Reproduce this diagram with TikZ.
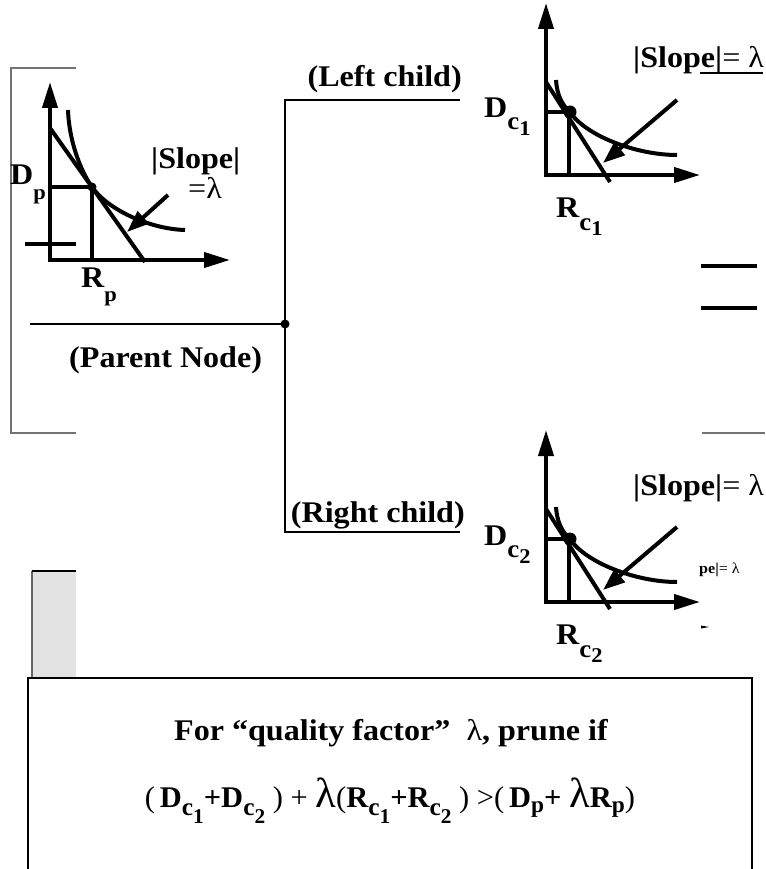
\documentclass[tikz,border=0pt]{standalone}
\usepackage{fontspec}
\setmainfont{Liberation Serif}[FakeStretch=1.07]
\usetikzlibrary{arrows.meta}

% lowered (subscript) text: drop, size, text
\newcommand{\lo}[3]{\raisebox{-#1}{\fontsize{#2}{#2}\selectfont #3}}
\newcommand{\biglam}{{\mdseries\fontsize{42}{42}\selectfont λ}}

\tikzset{
  plotaxis/.style={line width=4pt,-{Triangle[length=26pt,width=15pt]}},
  plotline/.style={line width=4pt},
  slopearrow/.style={line width=4pt,-{Triangle[length=22pt,width=16pt]}},
  branch/.style={line width=1.3pt},
  bracket/.style={line width=1.5pt,draw=black!55},
  lbl/.style={inner sep=0pt,anchor=base west},
}

\begin{document}
\begin{tikzpicture}[x=1pt,y=-1pt,font=\fontsize{30}{32}\selectfont\bfseries]
\useasboundingbox (0,0) rectangle (765,869);

% frames
\draw[bracket] (76,68) -- (11,68) -- (11,433) -- (76,433);
\draw[bracket] (702,433) -- (765,433);
\draw[line width=4pt] (701,266) -- (757,266);
\draw[line width=4pt] (701,308) -- (757,308);
\fill[black!11] (32,571) rectangle (76,678);
\draw[black!60,line width=1.5pt] (32,678) -- (32,571);
\draw[line width=1.3pt] (32,571) -- (76,571);
\draw[line width=1.3pt] (28,869) -- (28,678) -- (752,678) -- (752,869);

% tree
\coordinate (pend) at (30,324);
\coordinate (split) at (285,324);
\coordinate (lend) at (460,100);
\coordinate (rend) at (460,532);
\draw[branch] (pend) -- (split);
\draw[branch] (lend) -| (split) |- (rend);
\fill (split) circle[radius=4.5pt];
\node[lbl] (pnode) at (69,367) {(Parent Node)};
\node[lbl,anchor=base east] (lchild) at (462,87) {(Left child)};
\node[lbl,anchor=base east] (rchild) at (465,522) {(Right child)};

% parent plot
\draw[plotaxis] (50,262) -- (50,82);
\draw[plotaxis] (48,260) -- (230,260);
\draw[plotline] (50,128) -- (145,262);
\draw[plotline] (68,110) .. controls (69,140) and (80,170) .. (92,187) .. controls (108,210) and (150,229) .. (185,230);
\draw[plotline] (50,187) -- (92,187) -- (92,260);
\draw[plotline] (25,244) -- (76,244);
\fill (92,187) circle[radius=4.5pt];
\draw[slopearrow] (168,195) -- (127,232);
\node[lbl] (dp) at (10,185) {D\lo{14pt}{21}{p}};
\node[lbl] (rp) at (81,287) {R\lo{14pt}{21}{p}};
\node[lbl] (sp) at (151,168) {|Slope|};
\node[lbl] (lp) at (188,198) {\mdseries=λ};

% child plots
\foreach \dy/\k in {0/1,427/2}{
\begin{scope}[shift={(0,\dy)}]
\draw[plotaxis] (546,177) -- (546,3);
\draw[plotaxis] (544,175) -- (700,175);
\draw[plotline] (546,82) -- (610,182);
\draw[plotline] (556,80) .. controls (557,95) and (562,105) .. (570,112) .. controls (585,135) and (635,155) .. (677,155);
\draw[plotline] (546,112) -- (569,112) -- (569,175);
\fill (570,112) circle[radius=6.5pt];
\draw[slopearrow] (677,100) -- (603,163);
\node[lbl] (d\k) at (484,118) {D\lo{12pt}{25}{c\lo{6pt}{21}{\k}}};
\node[lbl] (r\k) at (556,217) {R\lo{13pt}{25}{c\lo{5pt}{21}{\k}}};
\node[lbl] (s\k) at (633,68) {|Slope|{\mdseries= λ}};
\end{scope}
}
\draw[line width=1.5pt] (700,73) -- (763,73);
\node[lbl,font=\fontsize{15}{15}\selectfont\bfseries] (stray) at (699,573) {pe|{\mdseries= λ}};
\fill (701,625.5) -- (709,627) -- (701,628.5) -- cycle;

% pruning rule
\node[anchor=base] (rule) at (391,740) {For “quality factor”\ \ {\mdseries λ}, prune if};
\node[anchor=base] (ineq) at (390,807) {\scalebox{0.95}[1]{{\mdseries(\,}D\lo{8pt}{25}{c\lo{8pt}{21}{1}}+D\lo{8pt}{25}{c\lo{8pt}{21}{2}}\ {\mdseries) +} \biglam{\mdseries(}R\lo{8pt}{25}{c\lo{8pt}{21}{1}}+R\lo{8pt}{25}{c\lo{8pt}{21}{2}}\ {\mdseries) >(\,}D\lo{5pt}{23}{p}+ \biglam R\lo{5pt}{23}{p}{\mdseries)}}};
\end{tikzpicture}
\end{document}
